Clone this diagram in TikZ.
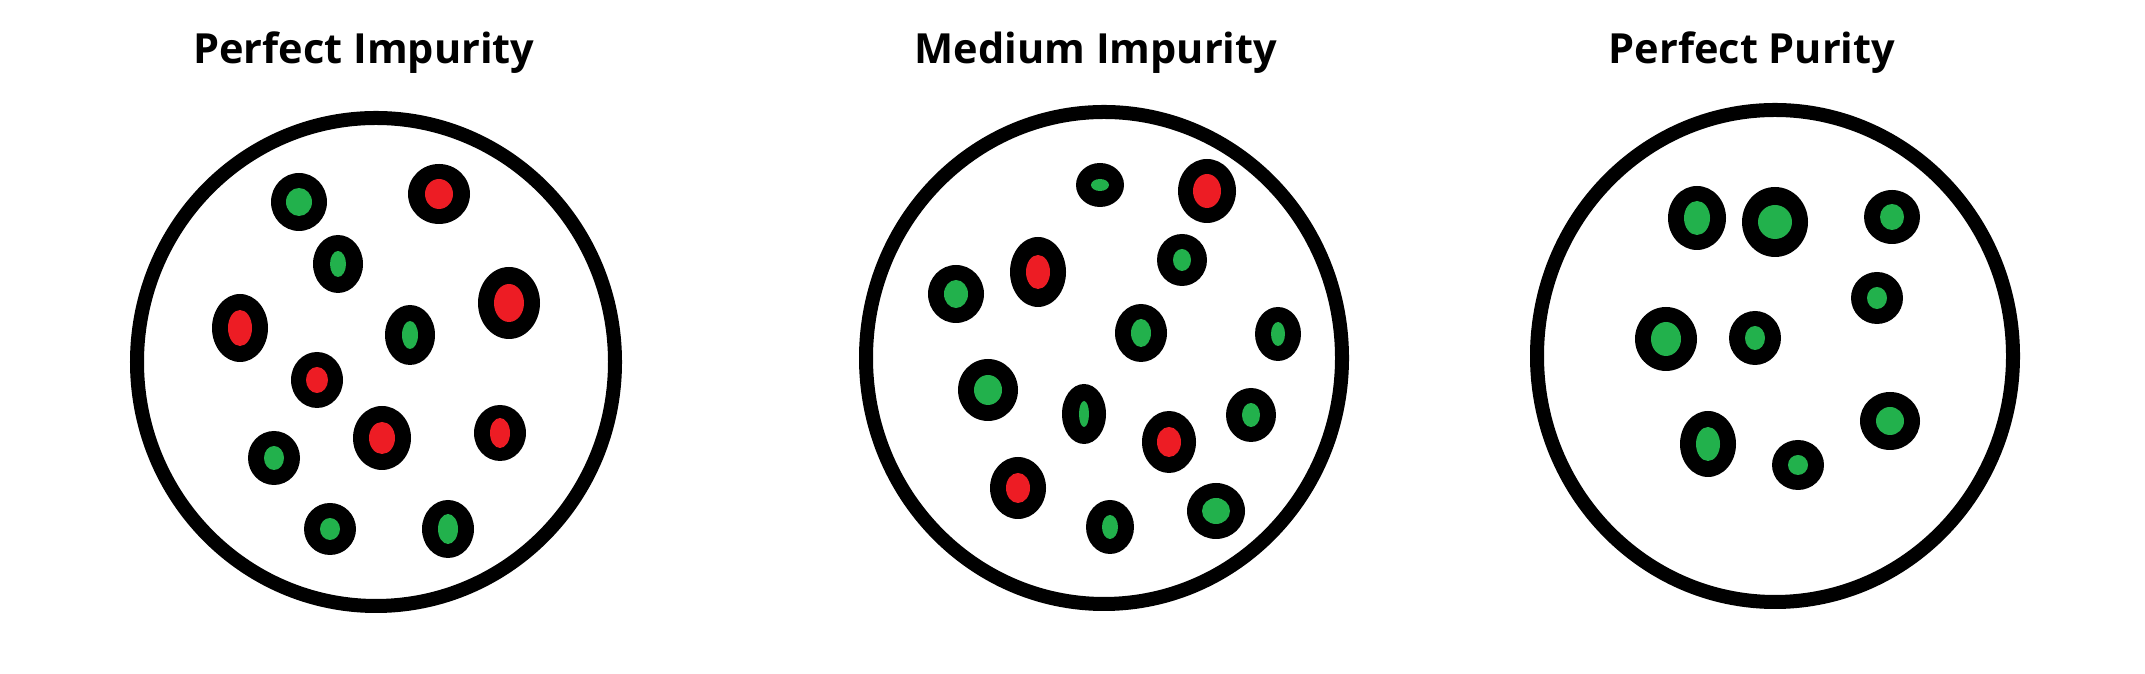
\documentclass[tikz,border=0pt]{standalone}
\usepackage{fontspec}
\setmainfont{Open Sans}
\definecolor{dotgreen}{HTML}{22B14C}
\definecolor{dotred}{HTML}{ED1C24}
\tikzset{heading/.style={font=\bfseries\fontsize{11.8}{14}\selectfont, anchor=base},
  jar/.style={line width=0.14cm}}
\begin{document}
\begin{tikzpicture}[x=0.01cm,y=-0.01cm]
  \useasboundingbox (0,0) rectangle (2145,674);
  % titles, cut off at the bottom as in the source
  \begin{scope}
    \clip (0,0) rectangle (2145,73);
    \node[heading] (impure) at (364,64) {Perfect Impurity};
    \node[heading] (medium) at (1096,64) {Medium Impurity};
    \node[heading] (pure) at (1752,64) {Perfect Purity};
  \end{scope}
  \draw[jar] (376,362) ellipse [x radius=239, y radius=244];
  \draw[jar] (1104,358) ellipse [x radius=238, y radius=246];
  \draw[jar] (1775,356) ellipse [x radius=238, y radius=246];
  % x/y/outer radii/inner radii/colour
  \foreach \x/\y/\a/\b/\c/\d/\col in {
      299/202/28/29/13/14/dotgreen, 439/194/31/30/14/15/dotred,
      338/264/25/29/8/13/dotgreen, 240/328/28/34/12/18/dotred,
      410/335/25/30/8/14/dotgreen, 509/303/31/36/15/19/dotred,
      317/380/26/28/11/13/dotred, 382/438/29/32/13/16/dotred,
      500/433/26/28/10/15/dotred, 274/458/26/27/10/12/dotgreen,
      330/529/26/26/10/11/dotgreen, 448/529/26/29/10/15/dotgreen,
      1100/185/24/22/9/6/dotgreen, 1207/191/29/32/14/17/dotred,
      1038/272/28/35/12/17/dotred, 1182/260/25/26/9/11/dotgreen,
      956/294/28/29/12/14/dotgreen, 1141/333/26/29/10/14/dotgreen,
      1278/334/23/27/7/12/dotgreen, 988/390/30/31/14/15/dotgreen,
      1084/414/22/30/5/13/dotgreen, 1251/415/25/27/9/12/dotgreen,
      1169/442/27/31/12/15/dotred, 1018/488/28/31/12/15/dotred,
      1110/527/24/27/8/12/dotgreen, 1216/511/29/28/14/13/dotgreen,
      1697/218/29/32/13/17/dotgreen, 1775/222/33/35/17/17/dotgreen,
      1892/217/28/27/12/13/dotgreen, 1877/298/26/26/10/11/dotgreen,
      1666/339/31/32/15/17/dotgreen, 1755/338/26/27/10/12/dotgreen,
      1708/444/28/33/12/17/dotgreen, 1798/465/26/25/10/10/dotgreen,
      1890/421/30/29/14/14/dotgreen}
  {
    \fill (\x,\y) ellipse [x radius=\a, y radius=\b];
    \fill[\col] (\x,\y) ellipse [x radius=\c, y radius=\d];
  }
\end{tikzpicture}
\end{document}
